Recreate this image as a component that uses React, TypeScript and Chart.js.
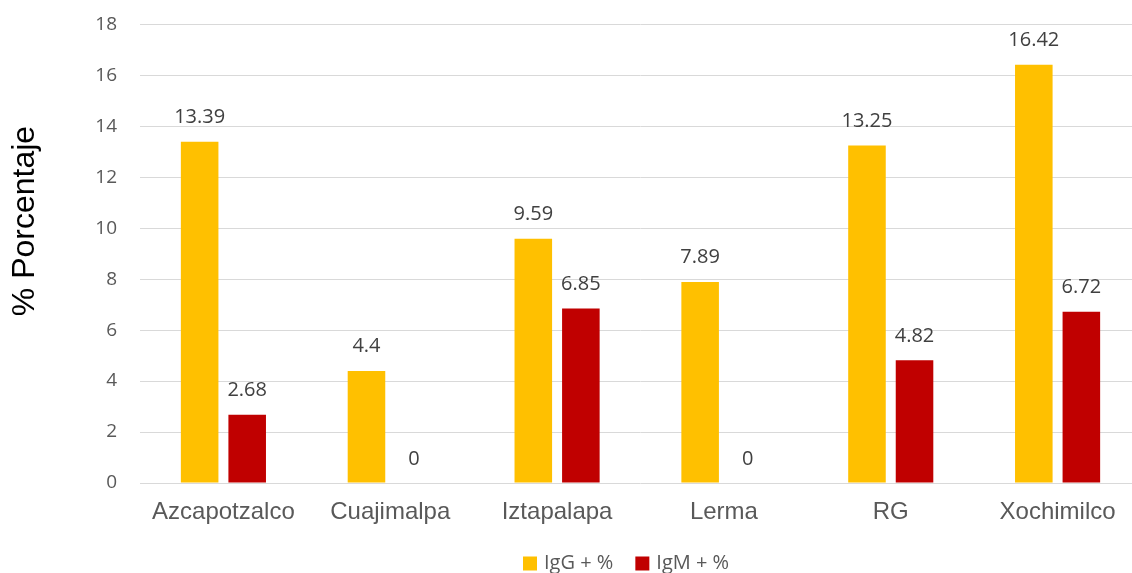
import React, { useEffect, useRef } from "react";
import { Chart, registerables } from "chart.js";

Chart.register(...registerables);

const categories = ["Azcapotzalco", "Cuajimalpa", "Iztapalapa", "Lerma", "RG", "Xochimilco"];
const iggValues = [13.39, 4.4, 9.59, 7.89, 13.25, 16.42];
const igmValues = [2.68, 0, 6.85, 0, 4.82, 6.72];
const seriesNames = ["IgG + %", "IgM + %"];
const seriesColors = ["#FFC000", "#C00000"];
const yMin = 0;
const yMax = 18;
const yStep = 2;
const yTitle = "% Porcentaje";

const SHIFT = 10;

const labelsPlugin = {
  id: "valueLabels",
  afterDatasetsDraw(chart: any) {
    const ctx = chart.ctx;
    ctx.save();
    ctx.font = "20px 'Open Sans'";
    ctx.fillStyle = "#404040";
    ctx.textAlign = "center";
    ctx.textBaseline = "alphabetic";
    chart.data.datasets.forEach((ds: any, i: number) => {
      const meta = chart.getDatasetMeta(i);
      meta.data.forEach((bar: any, j: number) => {
        ctx.fillText(String(ds.data[j]), bar.x, bar.y - 18.5);
      });
    });
    ctx.restore();
  },
  afterDraw(chart: any) {
    const ctx = chart.ctx;
    ctx.save();
    // y axis title
    ctx.translate(25, 221 + SHIFT);
    ctx.rotate(-Math.PI / 2);
    ctx.font = "32px 'Liberation Sans'";
    ctx.fillStyle = "#000000";
    ctx.textAlign = "center";
    ctx.textBaseline = "middle";
    ctx.fillText(yTitle, 0, 0);
    ctx.restore();

    // legend
    ctx.save();
    ctx.font = "20px 'Open Sans'";
    ctx.textBaseline = "middle";
    ctx.textAlign = "left";
    let x = 523;
    const yMid = 563.5 + SHIFT;
    seriesNames.forEach((name, i) => {
      ctx.fillStyle = seriesColors[i];
      ctx.fillRect(x, yMid - 7, 14, 14);
      x += 21;
      ctx.fillStyle = "#595959";
      ctx.fillText(name, x, yMid);
      x += ctx.measureText(name).width + 22;
    });
    ctx.restore();
  },
};

export default function App() {
  const ref = useRef<HTMLCanvasElement | null>(null);
  useEffect(() => {
    if (!ref.current) return;
    const chart = new Chart(ref.current, {
      type: "bar",
      data: {
        labels: categories,
        datasets: [
          {
            label: seriesNames[0],
            data: iggValues,
            backgroundColor: seriesColors[0],
            categoryPercentage: 0.57,
            barPercentage: 0.79,
          },
          {
            label: seriesNames[1],
            data: igmValues,
            backgroundColor: seriesColors[1],
            categoryPercentage: 0.57,
            barPercentage: 0.79,
          },
        ],
      },
      options: {
        animation: false,
        responsive: false,
        maintainAspectRatio: false,
        layout: { padding: { left: 0, top: 0, right: 4, bottom: 0 } },
        plugins: {
          legend: { display: false },
          tooltip: { enabled: false },
        },
        scales: {
          x: {
            grid: { display: false, drawTicks: false },
            border: { display: false },
            ticks: {
              color: "#595959",
              font: { family: "'Liberation Sans'", size: 24 },
              padding: 15,
            },
            afterFit: (scale: any) => {
              scale.height = 90;
            },
          },
          y: {
            min: yMin,
            max: yMax,
            grid: { color: "#D9D9D9", lineWidth: 1, drawTicks: false },
            border: { display: false },
            ticks: {
              stepSize: yStep,
              color: "#595959",
              font: { family: "'Open Sans'", size: 19 },
              padding: 23,
            },
            afterFit: (scale: any) => {
              scale.width = 140;
            },
          },
        },
      },
      plugins: [labelsPlugin],
    });
    return () => chart.destroy();
  }, []);
  return (
    <div style={{ position: "fixed", left: 0, top: 0, width: 1132, height: 573, overflow: "hidden", background: "#fff" }}>
      <canvas ref={ref} width={1145} height={573 + SHIFT} style={{ display: "block", marginTop: -SHIFT }} />
    </div>
  );
}
